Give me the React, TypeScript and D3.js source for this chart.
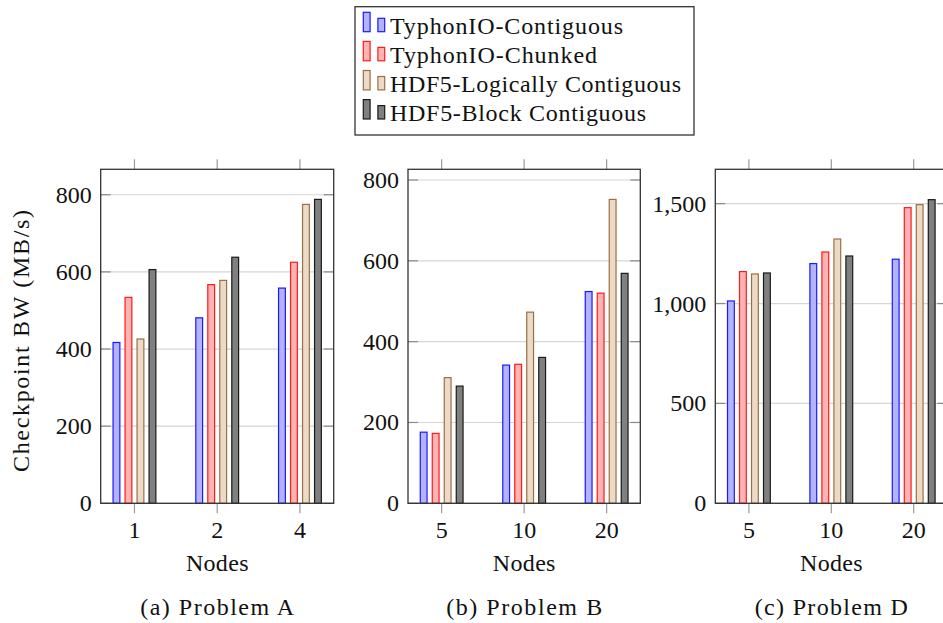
import React from "react";
import * as d3 from "d3";

const seriesNames = [
  "TyphonIO-Contiguous",
  "TyphonIO-Chunked",
  "HDF5-Logically Contiguous",
  "HDF5-Block Contiguous",
];

// Problem A
const nodesA = ["1", "2", "4"];
const typhonContigA = [417, 481, 558];
const typhonChunkedA = [534, 567, 625];
const hdfLogicalA = [426, 578, 775];
const hdfBlockA = [606, 638, 788];
const ticksA = [0, 200, 400, 600, 800];

// Problem B
const nodesB = ["5", "10", "20"];
const typhonContigB = [176, 342, 524];
const typhonChunkedB = [173, 344, 520];
const hdfLogicalB = [311, 473, 752];
const hdfBlockB = [290, 361, 569];
const ticksB = [0, 200, 400, 600, 800];

// Problem D
const nodesD = ["5", "10", "20"];
const typhonContigD = [1013, 1200, 1222];
const typhonChunkedD = [1160, 1258, 1480];
const hdfLogicalD = [1148, 1323, 1495];
const hdfBlockD = [1153, 1238, 1520];
const ticksD = [0, 500, 1000, 1500];

const captions = ["(a) Problem A", "(b) Problem B", "(c) Problem D"];

const fills = ["#b3b3ff", "#ffb3b3", "#ecd9c6", "#808080"];
const strokes = ["#1a1aff", "#ff1a1a", "#9a7048", "#1a1a1a"];

const FONT = "Liberation Serif";
const FS = 24;

type Panel = {
  cats: string[];
  series: number[][];
  ticks: number[];
  yMax: number;
  left: number;
  right: number;
  caption: string;
  capLen: number;
};

const panels: Panel[] = [
  {
    cats: nodesA,
    series: [typhonContigA, typhonChunkedA, hdfLogicalA, hdfBlockA],
    ticks: ticksA,
    yMax: 866,
    left: 100.7,
    right: 333.7,
    caption: captions[0],
    capLen: 154,
  },
  {
    cats: nodesB,
    series: [typhonContigB, typhonChunkedB, hdfLogicalB, hdfBlockB],
    ticks: ticksB,
    yMax: 826.5,
    left: 408,
    right: 640.3,
    caption: captions[1],
    capLen: 156,
  },
  {
    cats: nodesD,
    series: [typhonContigD, typhonChunkedD, hdfLogicalD, hdfBlockD],
    ticks: ticksD,
    yMax: 1672,
    left: 715.3,
    right: 947.3,
    caption: captions[2],
    capLen: 153,
  },
];

const TOP = 169.3;
const BOTTOM = 503.3;
const legendLens = [233, 207, 291, 256];

function PanelView({ p }: { p: Panel }) {
  const x = d3.scalePoint<string>().domain(p.cats).range([p.left, p.right]).padding(0.408);
  const y = d3.scaleLinear().domain([0, p.yMax]).range([BOTTOM, TOP]);
  const off = d3
    .scaleBand<number>()
    .domain(d3.range(p.series.length))
    .range([-22, 22])
    .paddingInner(1 / 3)
    .paddingOuter(0);
  const fmt = d3.format(",");
  const cx = (p.left + p.right) / 2;
  return (
    <g>
      {p.ticks.map((t) => (
        <line key={"g" + t} x1={p.left} x2={p.right} y1={y(t)} y2={y(t)} stroke="#d6d6d6" strokeWidth={1.2} />
      ))}
      {p.ticks.map((t) => (
        <g key={"yt" + t}>
          <line x1={p.left} x2={p.left + 10} y1={y(t)} y2={y(t)} stroke="#8a8a8a" strokeWidth={1.2} />
          <line x1={p.right - 10} x2={p.right} y1={y(t)} y2={y(t)} stroke="#8a8a8a" strokeWidth={1.2} />
          <text className="lbl" x={p.left - 9} y={y(t) + 8} textAnchor="end" fontFamily={FONT} fontSize={FS}>
            {fmt(t)}
          </text>
        </g>
      ))}
      {p.series.map((vals, si) =>
        vals.map((v, ci) => {
          const bx = (x(p.cats[ci]) as number) + (off(si) as number);
          return (
            <rect
              key={"b" + si + "-" + ci}
              x={bx + 0.6}
              y={y(v)}
              width={off.bandwidth() - 1.2}
              height={BOTTOM - y(v)}
              fill={fills[si]}
              stroke={strokes[si]}
              strokeWidth={1.2}
            />
          );
        })
      )}
      {p.cats.map((c) => (
        <g key={"xt" + c}>
          <line x1={x(c)} x2={x(c)} y1={BOTTOM} y2={BOTTOM + 10} stroke="#9a9a9a" strokeWidth={1.2} />
          <line x1={x(c)} x2={x(c)} y1={TOP - 10} y2={TOP} stroke="#9a9a9a" strokeWidth={1.2} />
          <text className="lbl" x={x(c)} y={538} textAnchor="middle" fontFamily={FONT} fontSize={FS}>
            {c}
          </text>
        </g>
      ))}
      <rect
        x={p.left}
        y={TOP}
        width={p.right - p.left}
        height={BOTTOM - TOP}
        fill="none"
        stroke="#333"
        strokeWidth={1.3}
      />
      <text className="lbl" x={cx} y={571} textAnchor="middle" fontFamily={FONT} fontSize={FS} textLength={62.6}>
        Nodes
      </text>
      <text className="lbl" x={cx} y={615} textAnchor="middle" fontFamily={FONT} fontSize={FS} textLength={p.capLen}>
        {p.caption}
      </text>
    </g>
  );
}

export default function App() {
  return (
    <div style={{ position: "absolute", left: 0, top: 0, fontFamily: "'Liberation Serif', serif" }}>
      <svg width={943} height={623}>
        <style>{`.lbl { font-family: 'Liberation Serif', 'Times New Roman', serif; font-size: 24px; fill: #111; }`}</style>
        <rect x={0} y={0} width={943} height={623} fill="#fff" />
        {panels.map((p, i) => (
          <PanelView key={i} p={p} />
        ))}
        <text
          className="lbl"
          transform="translate(29,341) rotate(-90)"
          textAnchor="middle"
          fontFamily={FONT}
          fontSize={FS}
          textLength={262}
        >
          Checkpoint BW (MB/s)
        </text>
        <g>
          <rect x={355} y={6.7} width={339} height={128.3} fill="#fff" stroke="#333" strokeWidth={1.3} />
          {seriesNames.map((name, i) => {
            const base = 31.7 + i * 29.1;
            return (
              <g key={name}>
                <rect x={363.3} y={base - 19.4} width={6.8} height={19.4} fill={fills[i]} stroke={strokes[i]} strokeWidth={1.2} />
                <rect x={377.9} y={base - 13.4} width={6.8} height={13.4} fill={fills[i]} stroke={strokes[i]} strokeWidth={1.2} />
                <text className="lbl" x={390} y={34.3 + i * 28.8} fontFamily={FONT} fontSize={FS} textLength={legendLens[i]}>
                  {name}
                </text>
              </g>
            );
          })}
        </g>
      </svg>
    </div>
  );
}
